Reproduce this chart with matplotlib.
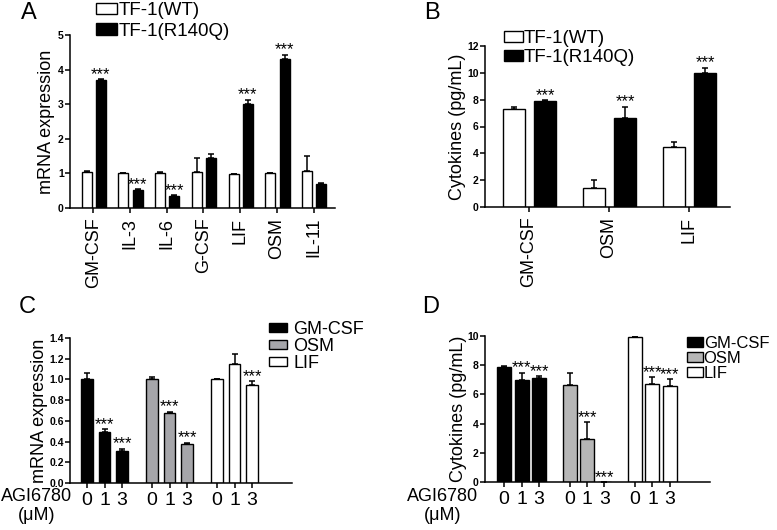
import numpy as np
import matplotlib
matplotlib.use("Agg")
import matplotlib.pyplot as plt
from matplotlib.patches import Patch

plt.rcParams['font.family'] = ['Liberation Sans', 'DejaVu Sans']

# ---- panel A: mRNA, WT vs R140Q
genes_a = ['GM-CSF', 'IL-3', 'IL-6', 'G-CSF', 'LIF', 'OSM', 'IL-11']
wt_a = [1.05, 1.0, 1.0, 1.05, 0.97, 1.0, 1.07]
wt_a_err = [0.02, 0.01, 0.03, 0.40, 0.01, 0.02, 0.43]
mut_a = [3.70, 0.53, 0.36, 1.45, 3.02, 4.30, 0.69]
mut_a_err = [0.02, 0.01, 0.01, 0.12, 0.11, 0.13, 0.02]
sig_a = [1, 1, 1, 0, 1, 1, 0]

# ---- panel B: cytokines, WT vs R140Q
genes_b = ['GM-CSF', 'OSM', 'LIF']
wt_b = [7.32, 1.40, 4.49]
wt_b_err = [0.17, 0.63, 0.35]
mut_b = [7.87, 6.63, 9.97]
mut_b_err = [0.10, 0.85, 0.42]
sig_b = [1, 1, 1]

# ---- panel C / D: AGI6780 doses
doses = ['0', '1', '3']
groups_cd = ['GM-CSF', 'OSM', 'LIF']
mrna_c = [[1.0, 0.49, 0.31], [1.0, 0.68, 0.38], [1.0, 1.15, 0.95]]
mrna_c_err = [[0.065, 0.03, 0.02], [0.02, 0.01, 0.01], [0.004, 0.10, 0.035]]
sig_c = [[0, 1, 1], [0, 1, 1], [0, 0, 1]]
cyto_d = [[7.88, 7.0, 7.1], [6.65, 2.92, 0.0], [9.95, 6.7, 6.58]]
cyto_d_err = [[0.09, 0.48, 0.17], [0.84, 1.18, 0.0], [0.0, 0.48, 0.46]]
sig_d = [[0, 1, 1], [0, 1, 1], [0, 1, 1]]

W, H = 777, 530
fig = plt.figure(figsize=(W / 100, H / 100), dpi=100)


def px_axes(l, r, t, b):
    return fig.add_axes([l / W, 1 - b / H, (r - l) / W, (b - t) / H])


def style(ax):
    for s in ['top', 'right']:
        ax.spines[s].set_visible(False)
    for s in ['left', 'bottom']:
        ax.spines[s].set_linewidth(1.1)
    ax.tick_params(width=1.1, length=3.5, direction='out')
    ax.tick_params(axis='y', labelsize=7.5, pad=1)
    for lab in ax.get_yticklabels():
        lab.set_fontweight('bold')


def bars(ax, x, vals, errs, color, width):
    ax.bar(x, vals, width, color=color, edgecolor='black', linewidth=1.0, zorder=2)
    ax.errorbar(x, vals, yerr=[np.zeros(len(vals)), errs], fmt='none',
                ecolor='black', elinewidth=1.1, capsize=2.5, capthick=1.1, zorder=1)


def stars(ax, x, vals, errs, sig, fs=12):
    for xi, v, e, s in zip(x, vals, errs, sig):
        if s:
            ax.annotate('***', (xi, v + e), xytext=(0, -2), textcoords='offset points',
                        ha='center', va='bottom', fontsize=fs)


# ---------------- A
axA = px_axes(70, 335, 35, 208)
xa = np.arange(len(genes_a))
bars(axA, xa - 0.18, wt_a, wt_a_err, 'white', 0.27)
bars(axA, xa + 0.21, mut_a, mut_a_err, 'black', 0.27)
stars(axA, xa + 0.21, mut_a, mut_a_err, sig_a)
axA.set_xlim(-0.63, 6.58)
axA.set_ylim(0, 5)
axA.set_yticks(range(6))
axA.set_xticks(xa)
axA.set_xticklabels(genes_a, rotation=90, fontsize=13)
axA.set_ylabel('mRNA expression', fontsize=13)
axA.yaxis.set_label_coords(-0.055, 0.5)
style(axA)
axA.legend(handles=[Patch(facecolor='white', edgecolor='black', label='TF-1(WT)'),
                    Patch(facecolor='black', edgecolor='black', label='TF-1(R140Q)')],
           loc='upper left', bbox_to_anchor=(96 / W, 1 - 2 / H), bbox_transform=fig.transFigure,
           frameon=False, fontsize=13.5, handlelength=1.1, handleheight=0.55,
           handletextpad=0.1, labelspacing=0.2, borderpad=0, borderaxespad=0)

# ---------------- B
axB = px_axes(485, 730, 46, 207)
xb = np.arange(len(genes_b))
bars(axB, xb - 0.19, wt_b, wt_b_err, 'white', 0.27)
bars(axB, xb + 0.2, mut_b, mut_b_err, 'black', 0.27)
stars(axB, xb + 0.2, mut_b, mut_b_err, sig_b)
axB.set_xlim(-0.55, 2.51)
axB.set_ylim(0, 12)
axB.set_yticks(range(0, 13, 2))
axB.set_xticks(xb)
axB.set_xticklabels(genes_b, rotation=90, fontsize=13)
axB.set_ylabel('Cytokines (pg/mL)', fontsize=13)
axB.yaxis.set_label_coords(-0.077, 0.5)
style(axB)
axB.legend(handles=[Patch(facecolor='white', edgecolor='black', label='TF-1(WT)'),
                    Patch(facecolor='black', edgecolor='black', label='TF-1(R140Q)')],
           loc='upper left', bbox_to_anchor=(504 / W, 1 - 30 / H), bbox_transform=fig.transFigure,
           frameon=False, fontsize=13.5, handlelength=1.0, handleheight=0.55,
           handletextpad=0.05, labelspacing=0.1, borderpad=0, borderaxespad=0)


# ---------------- C and D
def dose_panel(ax, vals, errs, sig, colors, width, step):
    xs_all = []
    for g in range(3):
        xs = np.arange(3) + g * step
        bars(ax, xs, vals[g], errs[g], colors[g], width)
        stars(ax, xs, vals[g], errs[g], sig[g])
        xs_all.extend(xs)
    ax.set_xticks(xs_all)
    ax.set_xticklabels(doses * 3, fontsize=14)
    ax.tick_params(axis='x', pad=3)
    handles = [Patch(facecolor=colors[i], edgecolor='black', label=groups_cd[i]) for i in range(3)]
    return handles


axC = px_axes(70, 292, 338, 483)
hC = dose_panel(axC, mrna_c, mrna_c_err, sig_c, ['black', '#a6a6aa', 'white'], 0.68, 3.71)
axC.set_xlim(-0.97, 11.7)
axC.set_ylim(0, 1.4)
axC.set_yticks(np.arange(0, 1.41, 0.2))
axC.set_yticklabels(['%.1f' % v for v in np.arange(0, 1.41, 0.2)])
axC.set_ylabel('mRNA expression', fontsize=13)
axC.yaxis.set_label_coords(-0.1, 0.5)
style(axC)
axC.legend(handles=hC, loc='upper left', bbox_to_anchor=(269 / W, 1 - 321 / H),
           bbox_transform=fig.transFigure, frameon=False, fontsize=13,
           handlelength=1.0, handleheight=0.42, handletextpad=0.35,
           labelspacing=0.0, borderpad=0, borderaxespad=0)

axD = px_axes(485, 710, 336, 482)
hD = dose_panel(axD, cyto_d, cyto_d_err, sig_d, ['black', '#b6b6b6', 'white'], 0.8, 3.74)
axD.set_xlim(-1.09, 11.77)
axD.set_ylim(0, 10)
axD.set_yticks(range(0, 11, 2))
axD.set_ylabel('Cytokines (pg/mL)', fontsize=13)
axD.yaxis.set_label_coords(-0.08, 0.5)
style(axD)
axD.legend(handles=hD, loc='upper left', bbox_to_anchor=(687 / W, 1 - 336 / H),
           bbox_transform=fig.transFigure, frameon=False, fontsize=12,
           handlelength=0.95, handleheight=0.6, handletextpad=0.05,
           labelspacing=0.0, borderpad=0, borderaxespad=0)

# dose captions
for xc in (37, 443):
    fig.text(xc / W, 1 - 488 / H, 'AGI6780\n(μM)', ha='center', va='top',
             fontsize=13, linespacing=1.15, multialignment='center')

# panel letters
for lab, x, y in [('A', 21, 19), ('B', 424, 19), ('C', 19, 313), ('D', 422, 313)]:
    fig.text(x / W, 1 - y / H, lab, fontsize=17, ha='left', va='baseline')

fig.savefig('out.png', dpi=100)
